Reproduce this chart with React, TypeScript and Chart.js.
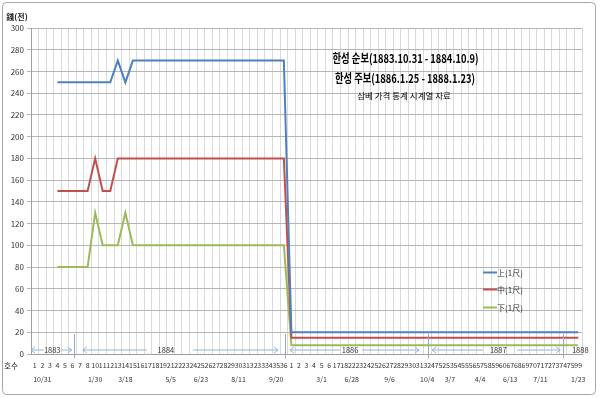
import React, { useEffect, useRef } from "react";
import { Chart, registerables } from "chart.js";
Chart.register(...registerables);

// 호수 (issue numbers) — category axis
const issueNumbers = [
  "1", "2", "3", "4", "5", "6", "7", "8", "10", "11",
  "12", "13", "14", "15", "16", "17", "18", "19", "21", "22",
  "23", "24", "25", "26", "27", "28", "29", "30", "31", "32",
  "33", "34", "35", "36", "1", "2", "3", "4", "5", "6",
  "17", "18", "22", "23", "24", "25", "26", "27", "28", "29",
  "30", "31", "32", "47", "52", "53", "54", "55", "56", "57",
  "58", "59", "60", "67", "68", "69", "70", "71", "72", "73",
  "74", "75", "99",
];

// second-row date labels and the category index they sit under
const dateTexts = ["10/31", "1/30", "3/18", "5/5", "6/23", "8/11", "9/20", "3/1", "6/28", "9/6", "10/4", "3/7", "4/4", "6/13", "7/11", "1/23"];
const dateIndex = [1, 8, 12, 18, 22, 27, 32, 38, 42, 47, 52, 55, 59, 63, 67, 72];

// 上(1尺)
const upper = [
  null, null, null, 250, 250, 250, 250, 250, 250, 250,
  250, 270, 250, 270, 270, 270, 270, 270, 270, 270,
  270, 270, 270, 270, 270, 270, 270, 270, 270, 270,
  270, 270, 270, 270, 20, 20, 20, 20, 20, 20,
  20, 20, 20, 20, 20, 20, 20, 20, 20, 20,
  20, 20, 20, 20, 20, 20, 20, 20, 20, 20,
  20, 20, 20, 20, 20, 20, 20, 20, 20, 20,
  20, 20, 20,
];
// 中(1尺)
const middle = [
  null, null, null, 150, 150, 150, 150, 150, 180, 150,
  150, 180, 180, 180, 180, 180, 180, 180, 180, 180,
  180, 180, 180, 180, 180, 180, 180, 180, 180, 180,
  180, 180, 180, 180, 15, 15, 15, 15, 15, 15,
  15, 15, 15, 15, 15, 15, 15, 15, 15, 15,
  15, 15, 15, 15, 15, 15, 15, 15, 15, 15,
  15, 15, 15, 15, 15, 15, 15, 15, 15, 15,
  15, 15, 15,
];
// 下(1尺)
const lower = [
  null, null, null, 80, 80, 80, 80, 80, 130, 100,
  100, 100, 130, 100, 100, 100, 100, 100, 100, 100,
  100, 100, 100, 100, 100, 100, 100, 100, 100, 100,
  100, 100, 100, 100, 8, 8, 8, 8, 8, 8,
  8, 8, 8, 8, 8, 8, 8, 8, 8, 8,
  8, 8, 8, 8, 8, 8, 8, 8, 8, 8,
  8, 8, 8, 8, 8, 8, 8, 8, 8, 8,
  8, 8, 8,
];

const seriesNames = ["上(1尺)", "中(1尺)", "下(1尺)"];
const seriesColors = ["#4F81BD", "#C0504D", "#9BBB59"];

const yearNames = ["1883", "1884", "1886", "1887", "1888"];

const titleLines = ["한성 순보(1883.10.31 - 1884.10.9)", "한성 주보(1886.1.25 - 1888.1.23)"];
const subTitle = "삼베 가격 통계 시계열 자료";

const FONT = '"Noto Sans CJK KR", "Noto Sans", sans-serif';

// year-band layout in category-width units from the plot's left edge
const yearLayout = [
  { text: 2.81, al: [0.0, 1.68], ar: [4.07, 5.4], sep: 5.66 },
  { text: 17.87, al: [6.86, 15.35], ar: [21.44, 32.72], sep: 33.65 },
  { text: 42.27, al: [34.31, 40.94], ar: [43.86, 51.42], sep: 52.61 },
  { text: 61.9, al: [53.14, 59.9], ar: [64.41, 70.11], sep: 70.5 },
  { text: 72.77, al: null, ar: null, sep: null },
];

const overlayPlugin = {
  id: "overlay",
  beforeDraw(chart: any) {
    const ctx = chart.ctx;
    ctx.save();
    ctx.fillStyle = "#ffffff";
    ctx.fillRect(0, 0, chart.width, chart.height);
    ctx.strokeStyle = "#a6a6a6";
    ctx.lineWidth = 1;
    ctx.beginPath();
    const r = 4;
    const x0 = 2.5, y0 = 2.5, x1 = 595.5, y1 = 394.5;
    ctx.moveTo(x0 + r, y0);
    ctx.arcTo(x1, y0, x1, y1, r);
    ctx.arcTo(x1, y1, x0, y1, r);
    ctx.arcTo(x0, y1, x0, y0, r);
    ctx.arcTo(x0, y0, x1, y0, r);
    ctx.closePath();
    ctx.stroke();
    ctx.restore();
  },
  afterDraw(chart: any) {
    const ctx = chart.ctx;
    const area = chart.chartArea;
    const n = issueNumbers.length;
    const cw = (area.right - area.left) / n;
    const ux = (u: number) => area.left + u * cw;
    const yScale = chart.scales.y;
    ctx.save();

    // titles
    ctx.fillStyle = "#000000";
    ctx.textAlign = "center";
    ctx.textBaseline = "middle";
    ctx.font = `bold 12px ${FONT}`;
    ctx.fillText(titleLines[0], 405.5, 58.5, 146);
    ctx.fillText(titleLines[1], 405, 78.5, 140);
    ctx.font = `8.5px ${FONT}`;
    ctx.fillText(subTitle, 404, 96, 98);

    // y title & x title
    ctx.font = `bold 8px ${FONT}`;
    ctx.fillStyle = "#222222";
    ctx.fillText("錢(전)", 17, 17);
    ctx.font = `7.5px ${FONT}`;
    ctx.textAlign = "left";
    ctx.fillText("호수", 4, 366);

    // legend
    const legendY = [272.5, 289.5, 307.5];
    ctx.font = `8px ${FONT}`;
    for (let i = 0; i < seriesNames.length; i++) {
      ctx.strokeStyle = seriesColors[i];
      ctx.lineWidth = 2;
      ctx.beginPath();
      ctx.moveTo(483, legendY[i]);
      ctx.lineTo(497, legendY[i]);
      ctx.stroke();
      ctx.fillStyle = "#333333";
      ctx.textAlign = "left";
      ctx.fillText(seriesNames[i], 497, legendY[i]);
    }

    // year bands
    const by = yScale.getPixelForValue(0) - 4;
    ctx.font = `7.5px ${FONT}`;
    ctx.textAlign = "center";
    const arrowColor = "#95b3d7";
    const drawArrow = (xa: number, xb: number, left: boolean) => {
      ctx.strokeStyle = arrowColor;
      ctx.lineWidth = 1;
      ctx.beginPath();
      ctx.moveTo(xa, by);
      ctx.lineTo(xb, by);
      ctx.stroke();
      const tip = left ? xa : xb;
      const d = left ? 4 : -4;
      ctx.beginPath();
      ctx.moveTo(tip + d, by - 3);
      ctx.lineTo(tip, by);
      ctx.lineTo(tip + d, by + 3);
      ctx.stroke();
    };
    yearLayout.forEach((yl, i) => {
      ctx.fillStyle = "#333333";
      ctx.fillText(yearNames[i], ux(yl.text), by);
      if (yl.al) drawArrow(ux(yl.al[0]), ux(yl.al[1]), true);
      if (yl.ar) drawArrow(ux(yl.ar[0]), ux(yl.ar[1]), false);
      if (yl.sep !== null) {
        ctx.strokeStyle = "#8ea9cf";
        ctx.lineWidth = 1;
        ctx.beginPath();
        const sx = Math.round(ux(yl.sep)) + 0.5;
        ctx.moveTo(sx, by - 16);
        ctx.lineTo(sx, by + 8);
        ctx.stroke();
      }
    });
    ctx.restore();
  },
};

export default function App() {
  const ref = useRef<HTMLCanvasElement | null>(null);
  useEffect(() => {
    document.body.style.margin = "0";
    const canvas = ref.current;
    if (!canvas) return;
    const labels = issueNumbers.map((num, i) => {
      const k = dateIndex.indexOf(i);
      return [num, k >= 0 ? dateTexts[k] : ""];
    });
    const chart = new Chart(canvas, {
      type: "line",
      data: {
        labels,
        datasets: [upper, middle, lower].map((d, i) => ({
          label: seriesNames[i],
          data: d,
          borderColor: seriesColors[i],
          backgroundColor: seriesColors[i],
          borderWidth: 2,
          pointRadius: 0,
          tension: 0,
          fill: false,
        })),
      },
      options: {
        responsive: false,
        animation: false,
        devicePixelRatio: 1,
        layout: { padding: { left: 0, top: 28, right: 18, bottom: 0 } },
        plugins: {
          legend: { display: false },
          tooltip: { enabled: false },
        },
        scales: {
          x: {
            type: "category",
            offset: true,
            grid: { offset: true, color: "#d9d9d9", lineWidth: 1, drawTicks: false },
            border: { color: "#a0a0a0" },
            ticks: {
              autoSkip: false,
              maxRotation: 0,
              minRotation: 0,
              padding: 4,
              color: "#333333",
              font: { family: FONT, size: 7, lineHeight: 2 },
            },
            afterFit: (s: any) => { s.height = 44; },
          },
          y: {
            min: 0,
            max: 300,
            ticks: {
              stepSize: 20,
              padding: 3,
              color: "#333333",
              font: { family: FONT, size: 8 },
            },
            grid: { color: "#b4b4b4", lineWidth: 1, drawTicks: true, tickLength: 4 },
            border: { color: "#a0a0a0" },
            afterFit: (s: any) => { s.width = 31; },
          },
        },
      },
      plugins: [overlayPlugin],
    });
    return () => chart.destroy();
  }, []);
  return (
    <div style={{ width: 600, height: 398, position: "relative" }}>
      <canvas ref={ref} width={600} height={398} style={{ display: "block" }} />
    </div>
  );
}
